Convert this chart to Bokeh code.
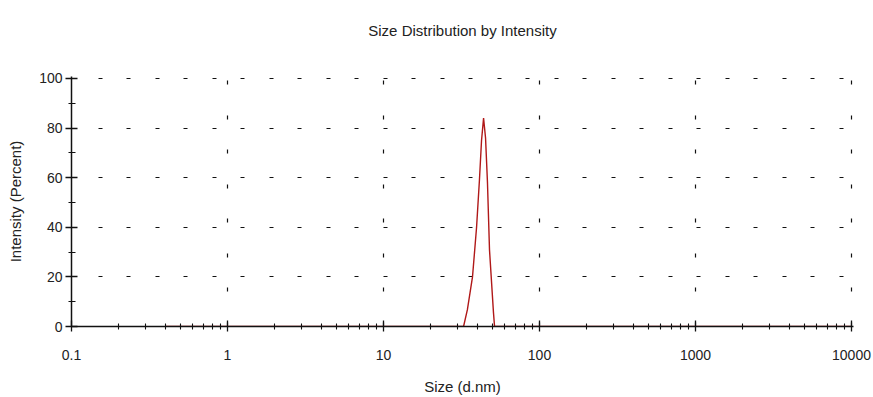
from bokeh.plotting import figure
from bokeh.models import Range1d, FixedTicker, CustomJSTickFormatter, LogAxis
from bokeh.embed import file_html
from bokeh.resources import INLINE

# Data (size in d.nm, intensity in percent)
sizes = [0.4, 32.6, 34.5, 37.2, 39.5, 41.2, 42.5, 43.8, 45.1, 46.4, 47.8, 50.7, 51.5, 10000]
intensity = [0, 0, 6.8, 20, 40, 59, 75, 84, 76, 58, 31, 5.6, 0, 0]

x_major = [0.1, 1, 10, 100, 1000, 10000]
x_minor = [m * 10 ** e for e in range(-1, 4) for m in range(2, 10)]
y_major = [0, 20, 40, 60, 80, 100]
y_minor = [10, 30, 50, 70, 90]
x_grid = [1, 10, 100, 1000, 10000]
y_grid = [20, 40, 60, 80, 100]
title_text = "Size Distribution by Intensity"

FONT = "Liberation Sans"

p = figure(width=873, height=397, x_axis_type="log",
           x_range=Range1d(0.1, 10300), y_range=Range1d(0, 100.8),
           output_backend="svg", toolbar_location=None,
           min_border_left=71, min_border_right=20,
           min_border_top=76, min_border_bottom=70)
p.outline_line_color = None
p.background_fill_color = "white"
p.border_fill_color = "white"

p.line(sizes, intensity, line_color="#b01818", line_width=1.4)

xa = p.below[0]
ya = p.left[0]

# Chart title: an empty axis above the frame carrying the title as its label
top = LogAxis(ticker=FixedTicker(ticks=[]), axis_label=title_text)
top.axis_line_color = None
top.major_tick_line_color = None
top.minor_tick_line_color = None
top.major_label_text_font_size = "0px"
top.axis_label_text_font = FONT
top.axis_label_text_font_size = "15px"
top.axis_label_text_font_style = "normal"
top.axis_label_text_color = "#222222"
top.axis_label_standoff = 38
p.add_layout(top, "above")

xa.ticker = FixedTicker(ticks=x_major, minor_ticks=x_minor)
xa.formatter = CustomJSTickFormatter(code="return tick.toString();")
xa.axis_label = "Size (d.nm)"
ya.ticker = FixedTicker(ticks=y_major, minor_ticks=y_minor)
ya.axis_label = "Intensity (Percent)"

for ax in (xa, ya):
    ax.axis_line_color = "#111111"
    ax.axis_line_width = 1.5
    ax.major_tick_line_color = "#111111"
    ax.minor_tick_line_color = "#111111"
    ax.major_tick_line_width = 1.3
    ax.minor_tick_line_width = 1.1
    ax.major_label_text_font = FONT
    ax.major_label_text_font_size = "14px"
    ax.major_label_text_color = "#222222"
    ax.axis_label_text_font = FONT
    ax.axis_label_text_font_size = "15px"
    ax.axis_label_text_font_style = "normal"
    ax.axis_label_text_color = "#222222"

xa.major_tick_in = 6
xa.major_tick_out = 5
xa.minor_tick_in = 3
xa.minor_tick_out = 3
xa.major_label_standoff = 18
xa.axis_label_standoff = 15

ya.major_tick_in = 6
ya.major_tick_out = 6
ya.minor_tick_in = 4
ya.minor_tick_out = 3
ya.major_label_standoff = 3
ya.axis_label_standoff = 12

p.xgrid.ticker = FixedTicker(ticks=x_grid)
p.ygrid.ticker = FixedTicker(ticks=y_grid)
p.xgrid.grid_line_color = "#111111"
p.ygrid.grid_line_color = "#111111"
p.xgrid.grid_line_width = 1.2
p.ygrid.grid_line_width = 1.2
p.xgrid.grid_line_dash = "4 31 4 30"
p.ygrid.grid_line_dash = "4 25 4 24"
p.ygrid.grid_line_dash_offset = 2
p.xgrid.grid_line_dash_offset = 0

open("out.html", "w").write(file_html(p, INLINE))
